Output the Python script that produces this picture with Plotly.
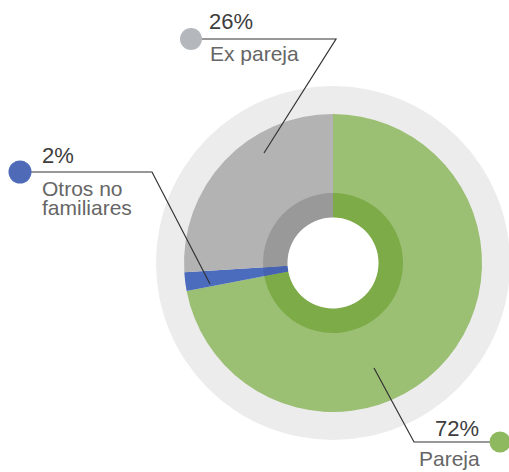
import plotly.graph_objects as go

# ---- data ----
labels = ["Pareja", "Otros no familiares", "Ex pareja"]
values = [72, 2, 26]
pct_labels = ["72%", "2%", "26%"]
outer_colors = ["#9bbf73", "#4b6bbd", "#b3b3b3"]
inner_colors = ["#7dab48", "#4563b0", "#999999"]
dot_colors = ["#8fb95f", "#4f6bb8", "#b4b8bc"]

# ---- layout constants (pixels) ----
W, H = 509, 472
CX, CY = 333, 263
R_BG, R_OUT, R_IN, R_HOLE = 177, 149, 70, 45.5
FONT = "Liberation Sans, Arial, sans-serif"


def px(x):
    return x / W


def py(y):
    return 1 - y / H


def dom(r):
    return dict(x=[max(0, (CX - r) / W), min(1, (CX + r) / W)],
                y=[max(0, 1 - (CY + r) / H), min(1, 1 - (CY - r) / H)])


fig = go.Figure()
fig.add_trace(go.Pie(labels=labels, values=values, sort=False, direction="clockwise",
                     rotation=0, marker=dict(colors=outer_colors, line=dict(width=0)),
                     textinfo="none", hoverinfo="label+percent", domain=dom(R_OUT),
                     showlegend=False))
fig.add_trace(go.Pie(labels=labels, values=values, sort=False, direction="clockwise",
                     rotation=0, hole=R_HOLE / R_IN,
                     marker=dict(colors=inner_colors, line=dict(width=0)),
                     textinfo="none", hoverinfo="label+percent", domain=dom(R_IN),
                     showlegend=False))

shapes = [dict(type="circle", xref="paper", yref="paper", layer="below",
               x0=px(CX - R_BG), x1=px(CX + R_BG), y0=py(CY + R_BG), y1=py(CY - R_BG),
               fillcolor="#ececec", line=dict(width=0)),
          dict(type="circle", xref="paper", yref="paper", layer="above",
               x0=px(CX - R_HOLE), x1=px(CX + R_HOLE), y0=py(CY + R_HOLE), y1=py(CY - R_HOLE),
               fillcolor="white", line=dict(width=0))]

# leader lines: dot -> elbow -> slice point ; text anchor
callouts = [
    # Pareja
    dict(i=0, dot=(500, 442), elbow=(414, 442), end=(374, 368),
         pct=(481, 437.5), lab=[("Pareja", 467)], anchor="right", lx=482, r=10.5),
    # Otros no familiares
    dict(i=1, dot=(20, 172), elbow=(152, 172), end=(210, 284),
         pct=(40, 164), lab=[("Otros no", 197), ("familiares", 216)], anchor="left", lx=40, r=11.5),
    # Ex pareja
    dict(i=2, dot=(191, 39), elbow=(336, 39), end=(264, 153),
         pct=(207, 30.5), lab=[("Ex pareja", 62)], anchor="left", lx=208, r=11),
]

annotations = []
for c in callouts:
    (dx, dy), (ex, ey), (fx, fy) = c["dot"], c["elbow"], c["end"]
    shapes.append(dict(type="path", xref="paper", yref="paper", layer="above",
                       path=f"M {px(dx)} {py(dy)} L {px(ex)} {py(ey)} L {px(fx)} {py(fy)}",
                       line=dict(color="#333333", width=1.2)))
    r = c["r"]
    shapes.append(dict(type="circle", xref="paper", yref="paper", layer="above",
                       x0=px(dx - r), x1=px(dx + r), y0=py(dy + r), y1=py(dy - r),
                       fillcolor=dot_colors[c["i"]], line=dict(width=0)))
    tx, tb = c["pct"]
    annotations.append(dict(x=px(tx), y=py(tb + 5.5), xref="paper", yref="paper",
                            xanchor=c["anchor"], yanchor="bottom", showarrow=False,
                            text=pct_labels[c["i"]],
                            font=dict(family=FONT, size=22, color="#3d3d3d")))
    for txt, base in c["lab"]:
        annotations.append(dict(x=px(c["lx"]), y=py(base + 5.3), xref="paper", yref="paper",
                                xanchor=c["anchor"], yanchor="bottom", showarrow=False,
                                text=txt, font=dict(family=FONT, size=21, color="#666666")))

fig.update_layout(width=W, height=H, margin=dict(l=0, r=0, t=0, b=0),
                  paper_bgcolor="white", plot_bgcolor="white",
                  shapes=shapes, annotations=annotations, showlegend=False)

fig.write_html("out.html", post_script="document.body.style.margin='0';",
               config={"displayModeBar": False})
